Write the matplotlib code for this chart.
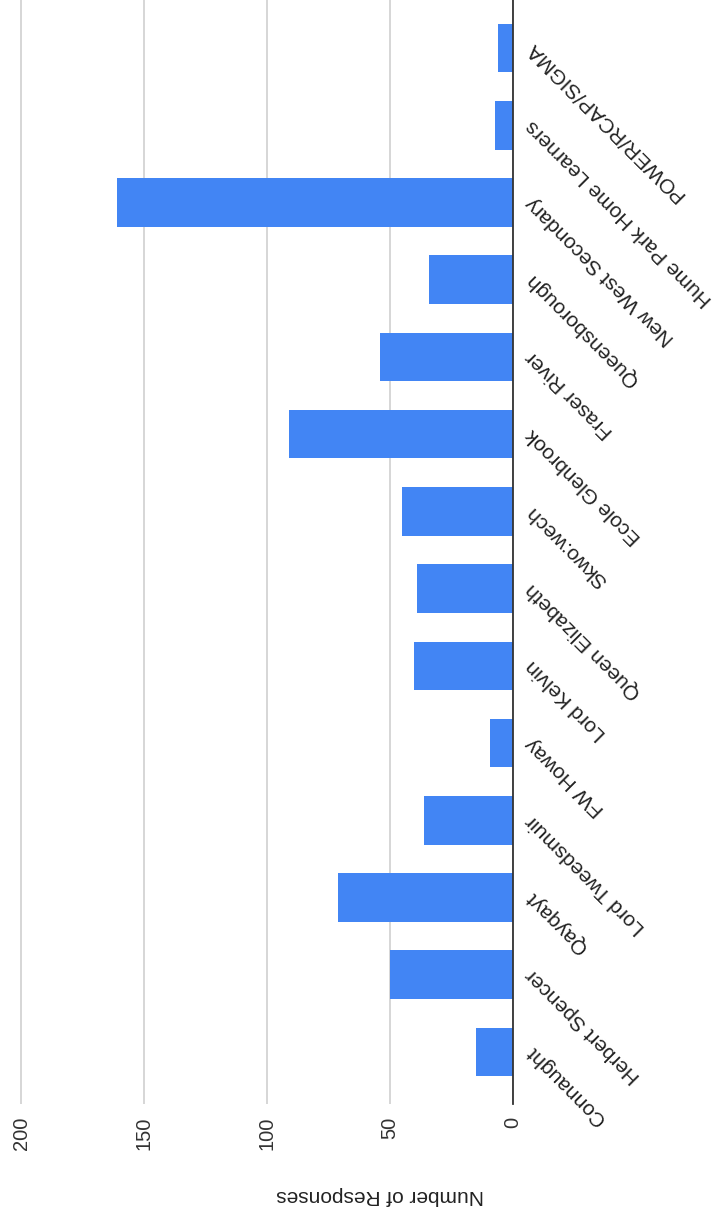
import matplotlib
matplotlib.use("Agg")
import matplotlib.pyplot as plt
import matplotlib.transforms as mtransforms

plt.rcParams['font.family'] = ['Liberation Sans', 'DejaVu Sans']

categories = ["Connaught", "Herbert Spencer", "Qayqayt", "Lord Tweedsmuir", "FW Howay",
              "Lord Kelvin", "Queen Elizabeth", "Skwo:wech", "Ecole Glenbrook", "Fraser River",
              "Queensborough", "New West Secondary", "Hume Park Home Learners", "POWER/RCAP/SIGMA"]
values = [15, 50, 71, 36, 9, 40, 39, 45, 91, 54, 34, 161, 7, 6]
value_ticks = [0, 50, 100, 150, 200]
axis_title = "Number of Responses"

W, H = 719, 1213
fig = plt.figure(figsize=(W / 100, H / 100), dpi=100)
ax = fig.add_axes([0, (H - 1104) / H, 512.5 / W, 1104 / H])

ypos = list(range(len(categories)))
ax.barh(ypos, values, height=0.63, color='#4285F4', zorder=3)

ax.set_xlim(208.6, 0)
ax.set_ylim(-0.674, 13.622)
ax.set_xticks(value_ticks)
ax.set_xticklabels([str(v) for v in value_ticks], rotation=90, fontsize=14.5, color='#333333')
ax.tick_params(axis='x', length=0, pad=9)
ax.set_yticks([])
ax.grid(axis='x', color='#cccccc', linewidth=1.1, zorder=0)
for s in ['top', 'left', 'bottom']:
    ax.spines[s].set_visible(False)
ax.spines['right'].set_color('#333333')
ax.spines['right'].set_linewidth(1.3)
ax.spines['right'].set_zorder(4)

off = mtransforms.offset_copy(ax.transData, fig=fig, x=12, y=2, units='points')
for i, lab in enumerate(categories):
    ax.text(0, i, lab, transform=off, rotation=135, rotation_mode='anchor',
            ha='right', va='center', fontsize=15, color='#222222', clip_on=False)

fig.text(380 / W, 1 - 1195 / H, axis_title, rotation=180, ha='center', va='center',
         fontsize=15, color='#222222')

fig.savefig('out.png', dpi=100, facecolor='white')
